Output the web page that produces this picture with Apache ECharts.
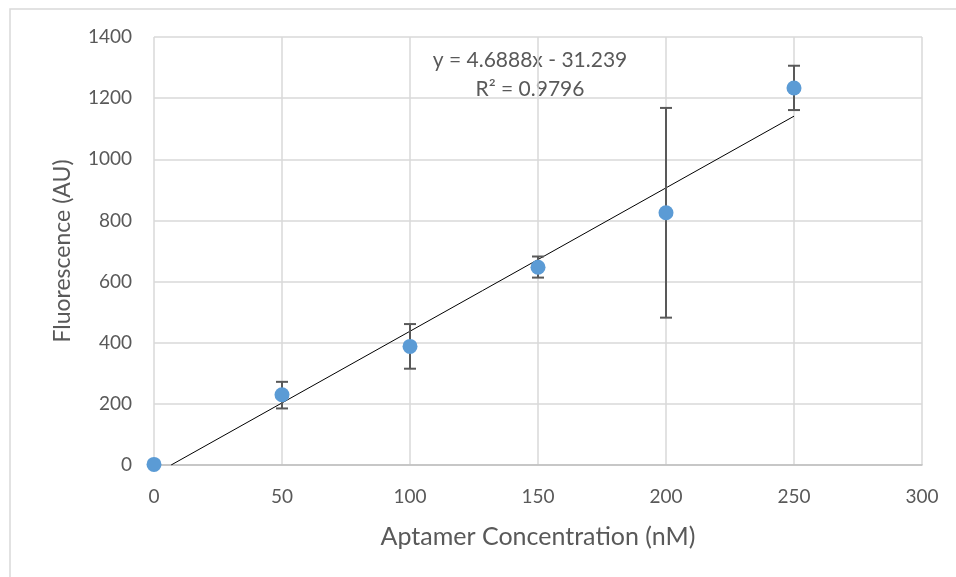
<!DOCTYPE html>
<html>
<head>
<meta charset="utf-8">
<script src="https://cdn.jsdelivr.net/npm/echarts@6/dist/echarts.min.js"></script>
<style>
  html, body { margin: 0; padding: 0; background: #fff; }
  #chart { width: 956px; height: 577px; }
</style>
</head>
<body>
<div id="chart"></div>
<script>
// concentration (nM) and mean fluorescence (AU)
const concentrations = [0, 50, 100, 150, 200, 250]
const fluorescence = [2, 230, 388, 647, 825, 1233]
const errLow = [2, 185, 315, 613, 482, 1161]
const errHigh = [2, 272, 461, 682, 1168, 1306]

// linear trendline, endpoints
const trendX = [6.7, 250]
const trendY = [0, 1141]
const trendLabels = ['y = 4.6888x - 31.239', 'R² = 0.9796']

const font = 'Lato, "Open Sans", sans-serif'
const chart = echarts.init(document.getElementById('chart'))

const option = {
  animation: false,
  backgroundColor: '#fff',
  grid: { left: 154, right: 34, top: 37, bottom: 112 },
  xAxis: {
    type: 'value',
    min: 0,
    max: 300,
    interval: 50,
    name: 'Aptamer Concentration (nM)',
    nameLocation: 'middle',
    nameGap: 59,
    nameTextStyle: { color: '#595959', fontSize: 25, fontFamily: font },
    axisLine: { show: true, lineStyle: { color: '#bfbfbf', width: 1.5 } },
    axisTick: { show: false },
    axisLabel: { color: '#595959', fontSize: 19, fontFamily: font, margin: 22 },
    splitLine: { show: true, lineStyle: { color: '#d9d9d9', width: 1.5 } }
  },
  yAxis: {
    type: 'value',
    min: 0,
    max: 1400,
    interval: 200,
    name: 'Fluorescence (AU)',
    nameLocation: 'middle',
    nameGap: 80,
    nameTextStyle: { color: '#595959', fontSize: 23, fontFamily: font },
    axisLine: { show: false },
    axisTick: { show: false },
    axisLabel: {
      color: '#595959', fontSize: 19, fontFamily: font, margin: 22,
      formatter: v => String(v)
    },
    splitLine: { show: true, lineStyle: { color: '#d9d9d9', width: 1.5 } }
  },
  graphic: [
    {
      type: 'rect',
      shape: { x: 10, y: 9, width: 1000, height: 600 },
      style: { fill: 'none', stroke: '#d9d9d9', lineWidth: 1.5 },
      silent: true
    },
    {
      type: 'text',
      style: {
        x: 530, y: 60, text: trendLabels[0], fill: '#595959',
        fontSize: 21, fontFamily: font, align: 'center', verticalAlign: 'middle'
      }
    },
    {
      type: 'text',
      style: {
        x: 530, y: 89, text: trendLabels[1], fill: '#595959',
        fontSize: 21, fontFamily: font, align: 'center', verticalAlign: 'middle'
      }
    }
  ],
  series: [
    {
      type: 'line',
      data: trendX.map((x, i) => [x, trendY[i]]),
      symbol: 'none',
      lineStyle: { color: '#000', width: 1 },
      z: 3
    },
    {
      type: 'custom',
      data: concentrations.map((x, i) => [x, errLow[i], errHigh[i]]),
      renderItem: (params, api) => {
        const lo = api.coord([api.value(0), api.value(1)])
        const hi = api.coord([api.value(0), api.value(2)])
        const cap = 6
        const style = { stroke: '#595959', lineWidth: 2 }
        return {
          type: 'group',
          children: [
            { type: 'line', shape: { x1: lo[0], y1: lo[1], x2: hi[0], y2: hi[1] }, style },
            { type: 'line', shape: { x1: lo[0] - cap, y1: lo[1], x2: lo[0] + cap, y2: lo[1] }, style },
            { type: 'line', shape: { x1: hi[0] - cap, y1: hi[1], x2: hi[0] + cap, y2: hi[1] }, style }
          ]
        }
      },
      z: 4
    },
    {
      type: 'scatter',
      data: concentrations.map((x, i) => [x, fluorescence[i]]),
      symbol: 'circle',
      symbolSize: 15,
      itemStyle: { color: '#5b9bd5', opacity: 1 },
      z: 5
    }
  ]
}

chart.setOption(option)
</script>
</body>
</html>
